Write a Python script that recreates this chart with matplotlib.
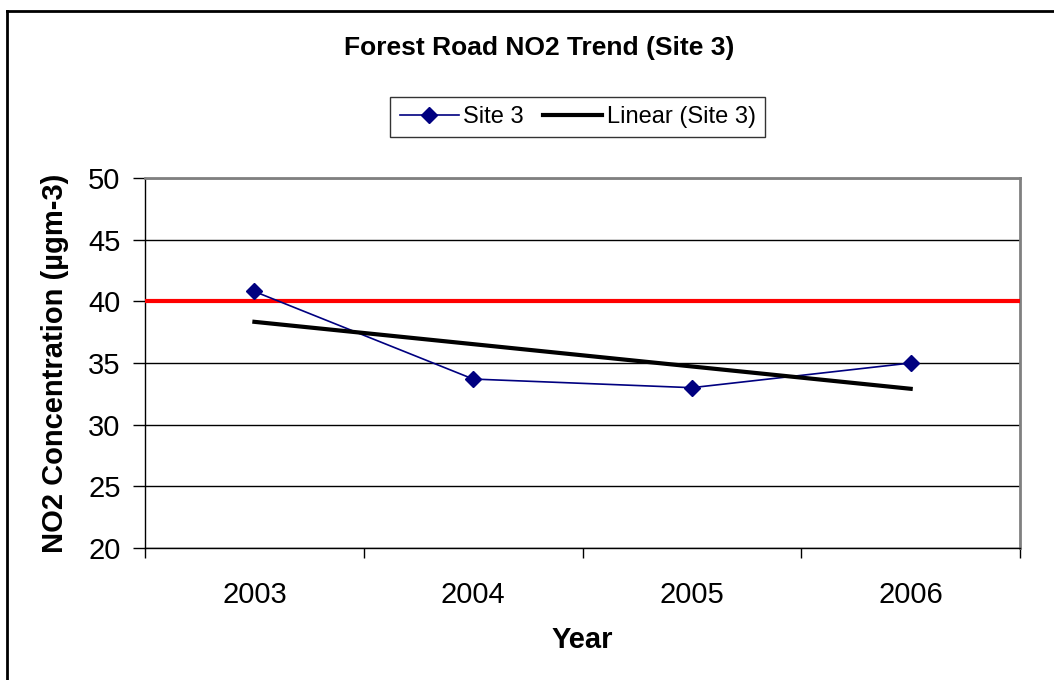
import matplotlib.pyplot as plt
import numpy as np

plt.rcParams['font.family'] = ['Liberation Sans', 'DejaVu Sans']

years = ["2003", "2004", "2005", "2006"]
site3 = [40.8, 33.7, 33.0, 35.0]
limit_value = 40

x = np.arange(len(years))
# linear trend as Excel would add it
slope, intercept = np.polyfit(x, site3, 1)
trend = slope * x + intercept

fig = plt.figure(figsize=(10.54, 6.8), dpi=100)
ax = fig.add_axes([0.1376, 0.1941, 0.8302, 0.5441])

# outer chart border (only top and left visible in the crop)
fig.add_artist(plt.Line2D([0.0071, 0.0071], [0, 0.984], color='black', lw=2.0, transform=fig.transFigure))
fig.add_artist(plt.Line2D([0.0071, 1.0], [0.984, 0.984], color='black', lw=2.0, transform=fig.transFigure))

ax.axhline(limit_value, color='#ff0000', lw=3, zorder=3)
ax.plot(x, site3, color='#000080', lw=1.2, marker='D', markersize=8, label="Site 3", zorder=4)
ax.plot(x, trend, color='black', lw=3, label="Linear (Site 3)", zorder=4)

ax.set_xlim(-0.5, len(years) - 0.5)
ax.set_ylim(20, 50)
ax.set_yticks(np.arange(20, 51, 5))
ax.set_xticks(x)
ax.set_xticklabels(years)
ax.set_xticks(np.arange(-0.5, len(years)), minor=True)
ax.tick_params(axis='x', which='major', length=0, labelsize=21, pad=24)
ax.tick_params(axis='x', which='minor', length=7.5, width=1, color='black')
ax.tick_params(axis='y', length=8.6, width=1, labelsize=21, pad=9)
ax.yaxis.grid(True, color='black', lw=1)
ax.set_axisbelow(True)

for side in ['top', 'right']:
    ax.spines[side].set_color('#808080')
    ax.spines[side].set_linewidth(2)
for side in ['left', 'bottom']:
    ax.spines[side].set_color('black')
    ax.spines[side].set_linewidth(1)

ax.set_xlabel("Year", fontsize=21, fontweight='bold', labelpad=12)
ax.set_ylabel("NO2 Concentration (µgm-3)", fontsize=21, fontweight='bold', labelpad=14)

fig.text(0.512, 0.93, "Forest Road NO2 Trend (Site 3)", ha='center', va='center', fontsize=19, fontweight='bold')

leg = fig.legend(loc='center', bbox_to_anchor=(0.548, 0.828), ncol=2, fontsize=17, frameon=True,
                 fancybox=False, edgecolor='black', handlelength=2.5, handletextpad=0.2, columnspacing=0.8,
                 borderpad=0.4)
leg.get_frame().set_linewidth(1)

fig.savefig("out.png", dpi=100)
